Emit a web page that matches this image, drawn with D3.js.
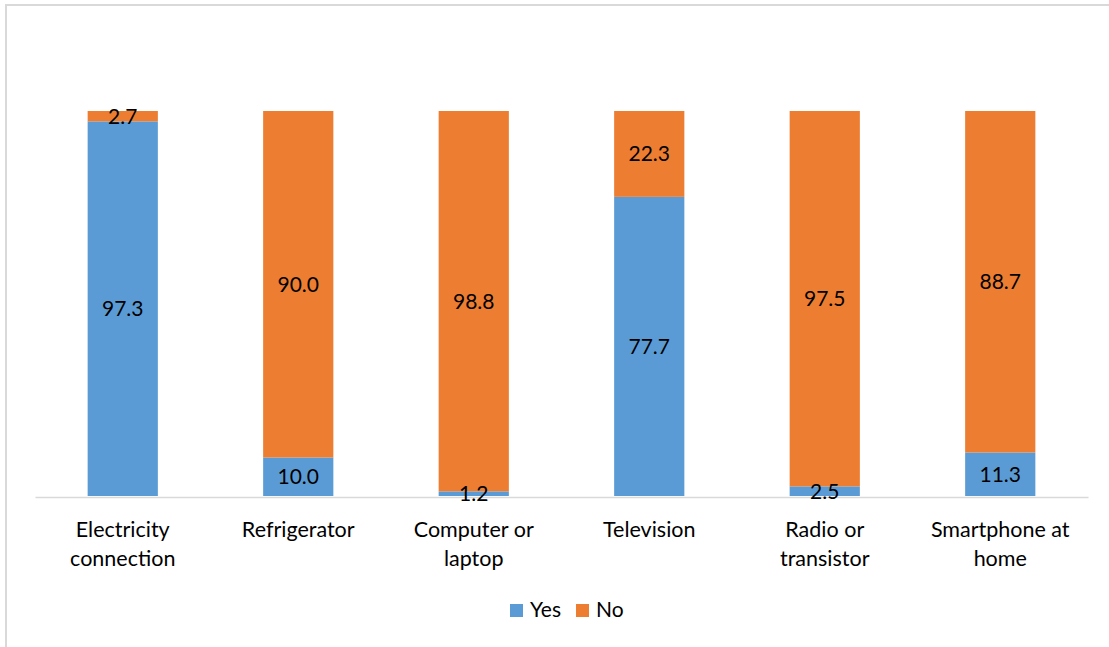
<!DOCTYPE html>
<html>
<head>
<meta charset="utf-8">
<script src="https://cdn.jsdelivr.net/npm/d3@7"></script>
<style>
  html, body { margin: 0; padding: 0; background: #fff; }
  svg { display: block; font-family: Lato, "Open Sans", sans-serif; }
</style>
</head>
<body>
<svg id="chart" width="1109" height="647"></svg>
<script>
// Household amenities: share of households with / without each item (%)
const categories = [
  ["Electricity", "connection"],
  ["Refrigerator"],
  ["Computer or", "laptop"],
  ["Television"],
  ["Radio or", "transistor"],
  ["Smartphone at", "home"]
];
const yesValues = [97.3, 10.0, 1.2, 77.7, 2.5, 11.3];
const noValues  = [2.7, 90.0, 98.8, 22.3, 97.5, 88.7];
const seriesNames = ["Yes", "No"];
const seriesColors = ["#5b9bd5", "#ed7d31"];

const svg = d3.select("#chart");
const W = 1109, H = 647;

// chart frame
svg.append("rect")
  .attr("x", 6).attr("y", 5)
  .attr("width", W + 10).attr("height", H + 10)
  .attr("fill", "#fff")
  .attr("stroke", "#d9d9d9").attr("stroke-width", 2);

const plot = { left: 35, right: 1088, top: 111, bottom: 496 };

const keys = categories.map((c, i) => i);
const x = d3.scaleBand()
  .domain(keys)
  .range([plot.left, plot.right])
  .paddingInner(0.6)
  .paddingOuter(0.3);

const y = d3.scaleLinear()
  .domain([0, 100])
  .range([plot.bottom, plot.top]);

const rows = keys.map(i => ({ i, Yes: yesValues[i], No: noValues[i] }));
const stacked = d3.stack().keys(seriesNames)(rows);

// stacked bar segments
svg.append("g").selectAll("g")
  .data(stacked)
  .join("g")
  .attr("fill", (d, k) => seriesColors[k])
  .selectAll("rect")
  .data(d => d)
  .join("rect")
  .attr("x", d => x(d.data.i))
  .attr("width", x.bandwidth())
  .attr("y", d => y(d[1]))
  .attr("height", d => y(d[0]) - y(d[1]));

// category axis
const axis = d3.axisBottom(x).tickSize(0).tickFormat("");
const gx = svg.append("g")
  .attr("transform", `translate(0,${plot.bottom + 1})`)
  .call(axis);
gx.select(".domain").attr("stroke", "#d9d9d9").attr("stroke-width", 1.5);

// value labels, centred in each segment, drawn above all bars
const labelData = stacked.flatMap((layer, k) =>
  layer.map(s => ({ s, key: seriesNames[k] })));
svg.append("g").selectAll("text")
  .data(labelData)
  .join("text")
  .attr("x", d => x(d.s.data.i) + x.bandwidth() / 2)
  .attr("y", d => (y(d.s[0]) + y(d.s[1])) / 2)
  .attr("dy", "0.36em")
  .attr("text-anchor", "middle")
  .attr("fill", "#000")
  .attr("font-size", 21)
  .text(d => d.s.data[d.key].toFixed(1));

const lbl = svg.append("g").selectAll("text")
  .data(keys)
  .join("text")
  .attr("x", i => x(i) + x.bandwidth() / 2)
  .attr("y", 537)
  .attr("text-anchor", "middle")
  .attr("fill", "#000")
  .attr("font-size", 21.5);
lbl.selectAll("tspan")
  .data(i => categories[i].map(t => ({ t, i })))
  .join("tspan")
  .attr("x", d => x(d.i) + x.bandwidth() / 2)
  .attr("dy", (d, j) => j === 0 ? 0 : 28.5)
  .text(d => d.t);

// legend
const legend = svg.append("g");
const legendItems = [
  { name: "Yes", color: seriesColors[0], x: 510 },
  { name: "No", color: seriesColors[1], x: 576 }
];
legend.selectAll("rect")
  .data(legendItems)
  .join("rect")
  .attr("x", d => d.x).attr("y", 604)
  .attr("width", 13).attr("height", 13)
  .attr("fill", d => d.color);
legend.selectAll("text")
  .data(legendItems)
  .join("text")
  .attr("x", d => d.x + 20).attr("y", 617)
  .attr("font-size", 21)
  .attr("fill", "#000")
  .text(d => d.name);
</script>
</body>
</html>
